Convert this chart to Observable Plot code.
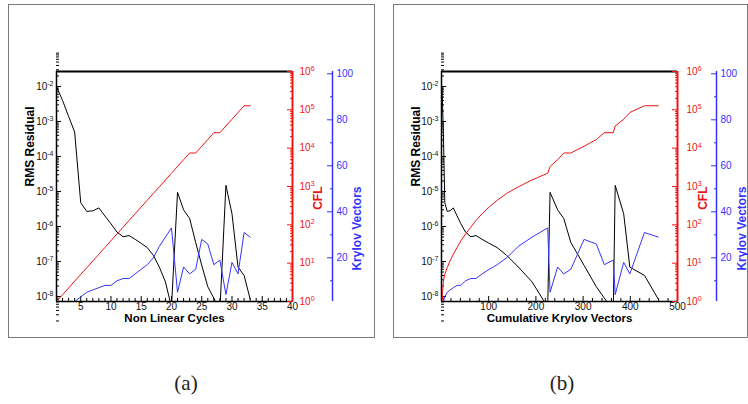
<!DOCTYPE html>
<html>
<head>
<meta charset="utf-8">
<script src="https://cdn.jsdelivr.net/npm/d3@7"></script>
<script src="https://cdn.jsdelivr.net/npm/@observablehq/plot@0.6"></script>
<style>
  html,body{margin:0;padding:0;background:#fff;}
  #root{position:relative;width:748px;height:404px;overflow:hidden;background:#fff;}
  .panel{position:absolute;border:1px solid #7a7a7a;box-sizing:border-box;}
  .layer{position:absolute;left:0;top:0;}
  .cap{position:absolute;top:371px;width:80px;text-align:center;font-family:"Liberation Serif","DejaVu Serif",serif;font-size:21px;color:#222;}
</style>
</head>
<body>
<div id="root">
  <div class="panel" style="left:8px;top:4px;width:367px;height:334px"></div>
  <div class="panel" style="left:393px;top:4px;width:355px;height:334px"></div>
  <div class="cap" style="left:146px">(a)</div>
  <div class="cap" style="left:522px">(b)</div>
</div>
<script>
// ---- data ----
const cycles = [1,2,3,4,5,6,7,8,9,10,11,12,13,14,15,16,17,18,19,20,21,22,23,24,25,26,27,28,29,30,31,32,33];
const cumulativeKrylov = [1,2,3,4,7,12,18,25,33,41,51,62,73,86,101,118,138,163,192,225,230,246,259,274,302,328,345,364,368,386,399,430,459];
const rmsResidual = [1.0e-2,4.0e-3,1.4e-3,5.0e-4,4.8e-6,2.7e-6,2.8e-6,3.4e-6,2.0e-6,1.2e-6,6.9e-7,5.1e-7,5.5e-7,4.3e-7,3.3e-7,2.5e-7,1.5e-7,6.9e-8,2.6e-8,5.0e-9,9.5e-6,3.0e-6,1.7e-6,3.5e-7,7.8e-8,1.9e-8,9.0e-9,4.0e-9,1.5e-5,2.3e-6,6.9e-8,4.0e-8,8.5e-9];
const cflNumber = [1,1.5,2.25,3.4,5.1,7.6,11.4,17.1,25.6,38.4,57.7,86.5,130,195,292,438,657,985,1480,2220,3330,4990,7480,7480,11200,16800,25300,25300,37900,56800,85200,128000,128000];
const krylovVectors = [1,1,1,1,3,5,6,7,8,8,10,11,11,13,15,17,20,25,29,33,5,16,13,15,28,26,17,19,4,18,13,31,29];

const residualTicks = [1e-8,1e-7,1e-6,1e-5,1e-4,1e-3,1e-2];
const cflTicks = [1,10,100,1000,1e4,1e5,1e6];
const krylovTicks = [20,40,60,80,100];
const krylovMinorTicks = [10,30,50,70,90];
const cycleTicks = [5,10,15,20,25,30,35,40];
const cumulativeTicks = [100,200,300,400,500];

// ---- rendering ----
const W = 748, H = 404, TOP = 71, BOTTOM = 301;
const RED = "#ee1414", BLUE = "#3434ff";
const FONT = "'Liberation Sans', Arial, sans-serif";

const rows = cycles.map((c, i) => ({
  cycle: c, cum: cumulativeKrylov[i], rms: rmsResidual[i], cfl: cflNumber[i], k: krylovVectors[i]
}));

function logMinor(lo, hi) {
  const out = [];
  for (let e = lo; e <= hi; e++) for (let m = 2; m <= 9; m++) out.push(m * Math.pow(10, e));
  return out;
}
const pow = v => "10^" + Math.round(Math.log10(v));

function superscriptify(svg) {
  svg.querySelectorAll("text").forEach(t => {
    const m = /^10\^(-?\d+)$/.exec(t.textContent);
    if (!m) return;
    t.textContent = "10";
    const s = document.createElementNS("http://www.w3.org/2000/svg", "tspan");
    s.setAttribute("dy", "-0.55em");
    s.setAttribute("font-size", "7px");
    s.textContent = m[1];
    t.appendChild(s);
  });
}

function drawPanel(cfg) {
  const {xKey, xDomain, xTicks, xMinor, xTitle, left, right, kOff, kPad, cPad, dxRms, dxCfl, dxK} = cfg;
  const root = document.getElementById("root");
  const base = {
    width: W, height: H,
    marginLeft: left, marginRight: W - right, marginTop: TOP, marginBottom: H - BOTTOM,
    style: {background: "transparent", fontFamily: FONT, fontSize: "10px", overflow: "visible"}
  };
  const resDomain = [Math.pow(10, -8.143), Math.pow(10, -1.571)];

  const pRes = Plot.plot({
    ...base,
    x: {domain: xDomain},
    y: {type: "log", domain: resDomain},
    marks: [
      Plot.line(rows, {x: xKey, y: "rms", stroke: "#000", strokeWidth: 1, clip: true}),
      Plot.axisY(logMinor(-9, -2), {anchor: "left", tickSize: 3, dx: 3, fill: "none", label: null}),
      Plot.axisY(residualTicks, {anchor: "left", tickSize: 5, dx: 5, fill: "none", label: null}),
      Plot.axisY(residualTicks, {anchor: "left", tickSize: 0, tickPadding: 3, tickFormat: pow, label: null, fill: "#111"}),
      Plot.axisX(xMinor, {anchor: "bottom", tickSize: 3, dy: -3, fill: "none", label: null}),
      Plot.axisX(xTicks, {anchor: "bottom", tickSize: 5, dy: -5, fill: "none", label: null}),
      Plot.axisX(xTicks, {anchor: "bottom", tickSize: 0, tickPadding: 1, label: null, fill: "#111"}),
      Plot.ruleX([xDomain[0]], {stroke: "#000", strokeWidth: 1.5}),
      Plot.ruleY([resDomain[0]], {stroke: "#000", strokeWidth: 1.5}),
      Plot.ruleY([resDomain[1]], {stroke: "#000", strokeWidth: 2}),
      Plot.text([xTitle], {frameAnchor: "bottom", dy: 20.5, fontWeight: "bold", fontSize: 11.5, fill: "#000"}),
      Plot.text(["RMS Residual"], {frameAnchor: "left", dx: dxRms, rotate: -90, fontWeight: "bold", fontSize: 12, fill: "#000"})
    ]
  });

  const pCfl = Plot.plot({
    ...base,
    x: {domain: xDomain, axis: null},
    y: {type: "log", domain: [1, 1e6]},
    marks: [
      Plot.line(rows, {x: xKey, y: "cfl", stroke: RED, strokeWidth: 1, clip: true}),
      Plot.ruleX([xDomain[1]], {stroke: RED, strokeWidth: 2}),
      Plot.axisY(logMinor(0, 5), {anchor: "right", tickSize: 3, dx: -3, stroke: RED, fill: "none", label: null}),
      Plot.axisY(cflTicks, {anchor: "right", tickSize: 6, dx: -6, stroke: RED, fill: "none", label: null}),
      Plot.axisY(cflTicks, {anchor: "right", tickSize: 0, tickPadding: cPad, tickFormat: pow, fill: RED, label: null}),
      Plot.text(["CFL"], {frameAnchor: "right", dx: dxCfl, rotate: -90, fontWeight: "bold", fontSize: 12, fill: RED})
    ]
  });

  const pK = Plot.plot({
    ...base,
    x: {domain: xDomain, axis: null},
    y: {domain: [1, 101]},
    marks: [
      Plot.line(rows, {x: xKey, y: "k", stroke: BLUE, strokeWidth: 1, clip: true}),
      Plot.ruleX([xDomain[1]], {dx: kOff, stroke: BLUE, strokeWidth: 1.5}),
      Plot.axisY(krylovMinorTicks, {anchor: "right", tickSize: 3, dx: kOff - 3, stroke: BLUE, fill: "none", label: null}),
      Plot.axisY(krylovTicks, {anchor: "right", tickSize: 6, dx: kOff - 6, stroke: BLUE, fill: "none", label: null}),
      Plot.axisY(krylovTicks, {anchor: "right", tickSize: 0, tickPadding: kPad, fill: BLUE, label: null}),
      Plot.text(["Krylov Vectors"], {frameAnchor: "right", dx: dxK, rotate: -90, fontWeight: "bold", fontSize: 12, fill: BLUE})
    ]
  });

  for (const p of [pRes, pCfl, pK]) {
    superscriptify(p);
    p.classList.add("layer");
    root.appendChild(p);
  }
}

drawPanel({
  xKey: "cycle", xDomain: [1, 40], xTicks: cycleTicks,
  xMinor: [2,3,4,6,7,8,9,11,12,13,14,16,17,18,19,21,22,23,24,26,27,28,29,31,32,33,34,36,37,38,39],
  xTitle: "Non Linear Cycles", left: 56, right: 292,
  kOff: 40, kPad: 44, cPad: 7, dxRms: -26, dxCfl: 26, dxK: 65
});
drawPanel({
  xKey: "cum", xDomain: [0, 500], xTicks: cumulativeTicks,
  xMinor: [20,40,60,80,120,140,160,180,220,240,260,280,320,340,360,380,420,440,460,480],
  xTitle: "Cumulative Krylov Vectors", left: 441, right: 677,
  kOff: 39, kPad: 43, cPad: 9, dxRms: -25, dxCfl: 26, dxK: 65
});
</script>
</body>
</html>
